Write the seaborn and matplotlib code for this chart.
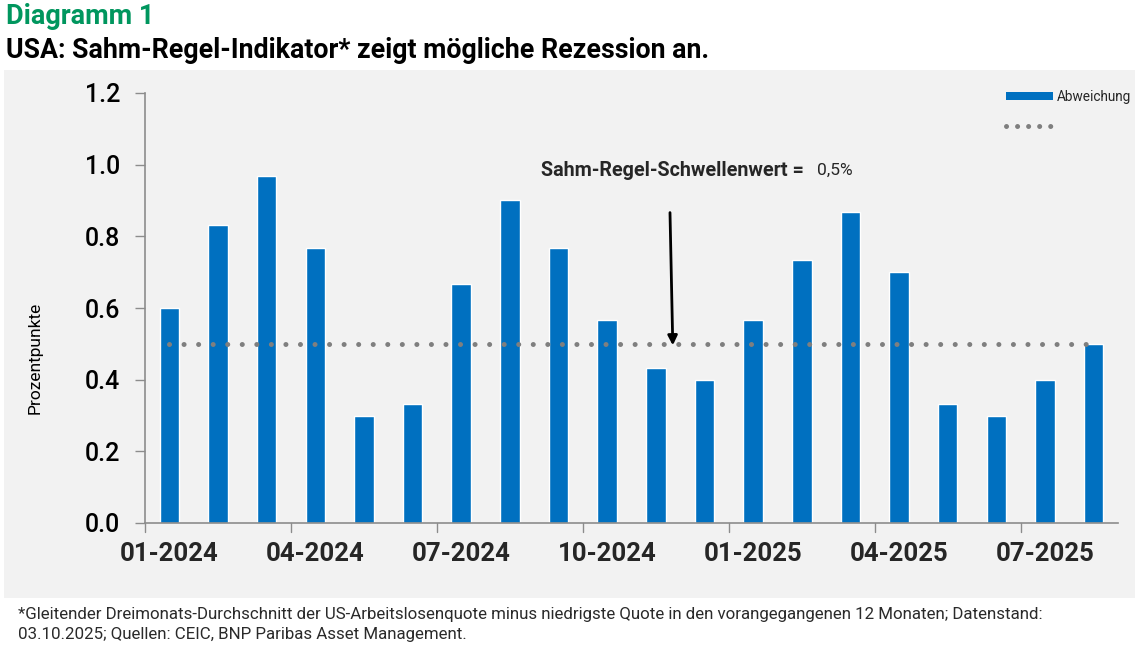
import matplotlib
matplotlib.use("Agg")
import matplotlib.pyplot as plt
import seaborn as sns
import pandas as pd
from matplotlib.patches import Rectangle, Patch
from matplotlib.lines import Line2D

months = ["01-2024", "02-2024", "03-2024", "04-2024", "05-2024", "06-2024",
          "07-2024", "08-2024", "09-2024", "10-2024", "11-2024", "12-2024",
          "01-2025", "02-2025", "03-2025", "04-2025", "05-2025", "06-2025",
          "07-2025", "08-2025"]
abweichung = [0.60, 0.833, 0.967, 0.767, 0.30, 0.333, 0.667, 0.90, 0.767, 0.567,
              0.433, 0.40, 0.567, 0.733, 0.867, 0.70, 0.333, 0.30, 0.40, 0.50]
schwelle = [0.5] * len(months)
yticks = [0.0, 0.2, 0.4, 0.6, 0.8, 1.0, 1.2]
ytick_labels = ["0.0", "0.2", "0.4", "0.6", "0.8", "1.0", "1.2"]

df = pd.DataFrame({"Monat": months, "Abweichung": abweichung, "Schwelle": schwelle})

sns.set_theme(style="white")
plt.rcParams["font.family"] = ["Roboto", "DejaVu Sans"]

W, H = 1135, 648
fig = plt.figure(figsize=(W / 100, H / 100), dpi=100)

def fx(px):
    return px / W

def fy(py):
    return 1 - py / H

# grey chart background
bg = Rectangle((fx(4), fy(598)), fx(1135) - fx(4), fy(70) - fy(598),
               transform=fig.transFigure, facecolor="#f2f2f2",
               edgecolor="none", zorder=-10)
fig.patches.append(bg)

ax = fig.add_axes([fx(145), fy(523), fx(1118) - fx(145), fy(93) - fy(523)])
ax.set_facecolor("none")
ax.set_zorder(1)

blue = "#0070c0"
sns.barplot(data=df, x="Monat", y="Abweichung", color=blue, width=0.4,
            saturation=1, ax=ax, zorder=2)
ax.plot(range(len(months)), df["Schwelle"], linestyle=(0, (0.01, 2.9)),
        linewidth=3.6, dash_capstyle="round", color="#7f7f7f", zorder=3)

ax.set_xlim(-0.5, len(months) - 0.5)
ax.set_ylim(0, 1.2)

# axes style
for s in ["top", "right"]:
    ax.spines[s].set_visible(False)
for s in ["left", "bottom"]:
    ax.spines[s].set_color("#8c8c8c")
    ax.spines[s].set_linewidth(1.2)

ax.set_yticks(yticks)
ax.set_yticklabels(ytick_labels, fontsize=18, fontweight="medium", color="#000000")
ax.tick_params(axis="y", direction="out", length=7, width=1.0, color="#8c8c8c", pad=11,
               left=True)

label_pos = list(range(0, len(months), 3))
ax.set_xticks(label_pos)
ax.set_xticklabels([months[i] for i in label_pos], fontsize=18.5, fontweight="bold")
ax.tick_params(axis="x", length=0, pad=14)
for b in [i - 0.5 for i in range(0, len(months) + 1, 3)]:
    ax.plot([b, b], [0, -0.025], color="#8c8c8c", lw=1.0, clip_on=False)

ax.set_xlabel("")
ax.set_ylabel("")
fig.text(fx(35), fy(358), "Prozentpunkte", rotation=90, ha="center", va="center",
         fontsize=12.5, color="#000000")

# annotation
ax.annotate("", xy=(10.35, 0.488), xytext=(10.29, 0.874),
            arrowprops=dict(arrowstyle="-|>", color="black", lw=2,
                            mutation_scale=14))
fig.text(fx(541), fy(170), "Sahm-Regel-Schwellenwert =", ha="left", va="center",
         fontsize=14.2, fontweight="bold")
fig.text(fx(817), fy(170), "0,5%", ha="left", va="center", fontsize=12.5)

# legend
handles = [Patch(facecolor=blue, edgecolor="none"),
           Line2D([0], [0], linestyle=(0, (0.01, 2.2)), linewidth=3.6,
                  dash_capstyle="round", color="#7f7f7f")]
ax_w = fx(1118) - fx(145)
leg = ax.legend(handles, ["Abweichung", ""], loc="upper left",
                bbox_to_anchor=((fx(994) - fx(145)) / ax_w, 1.035),
                frameon=False, fontsize=9.8, handlelength=3.4, handleheight=0.55,
                labelspacing=1.1, handletextpad=0.3)

# titles
fig.text(fx(6), fy(17), "Diagramm 1", ha="left", va="center", fontsize=19.5,
         fontweight="bold", color="#00965e")
fig.text(fx(6), fy(50), "USA: Sahm-Regel-Indikator* zeigt mögliche Rezession an.",
         ha="left", va="center", fontsize=19.3, fontweight="bold", color="#000000")

# footnote
fig.text(fx(18), fy(615),
         "*Gleitender Dreimonats-Durchschnitt der US-Arbeitslosenquote minus niedrigste Quote in den vorangegangenen 12 Monaten; Datenstand:",
         ha="left", va="center", fontsize=12.2, color="#2a2a2a")
fig.text(fx(18), fy(635),
         "03.10.2025; Quellen: CEIC, BNP Paribas Asset Management.",
         ha="left", va="center", fontsize=12.2, color="#2a2a2a")

fig.savefig("out.png", dpi=100)
